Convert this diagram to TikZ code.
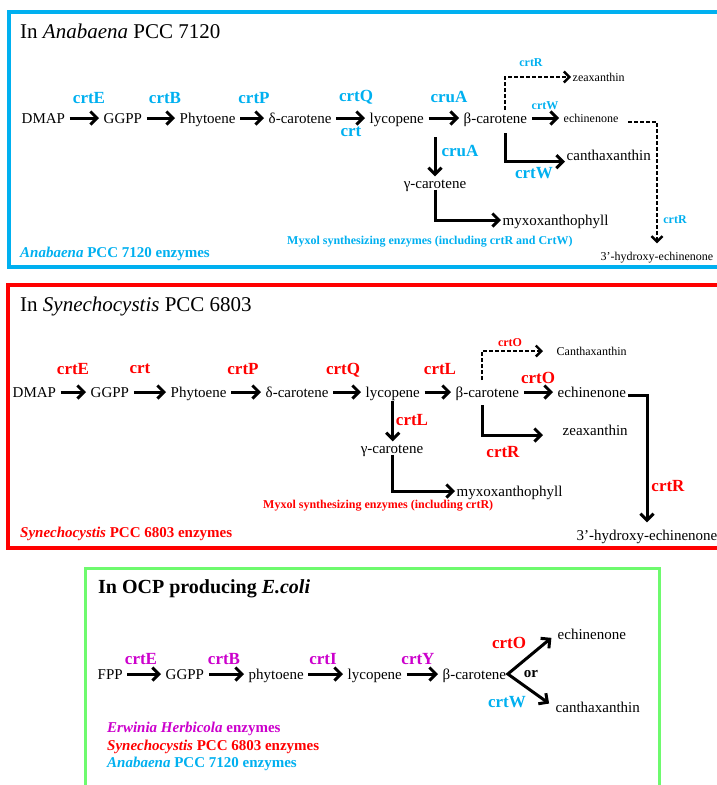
\documentclass[tikz,border=0pt]{standalone}
\usepackage{fontspec}
\setmainfont{Liberation Serif}
\usetikzlibrary{arrows.meta}

\definecolor{anab}{RGB}{0,176,240}
\definecolor{syne}{RGB}{255,0,0}
\definecolor{erwi}{RGB}{204,0,204}
\definecolor{ecol}{RGB}{110,250,110}

\tikzset{
  >={Straight Barb[length=6.5pt,width=13pt,line width=3pt]},
  cmp/.style={font=\fontsize{15}{18}\selectfont, inner sep=1.5pt, text height=10pt, text depth=0pt},
  cmps/.style={font=\fontsize{12}{14}\selectfont, inner sep=1.5pt, text height=8pt, text depth=0pt},
  enz/.style={font=\fontsize{17}{20}\selectfont\bfseries, inner sep=0pt},
  enzs/.style={font=\fontsize{12}{14}\selectfont\bfseries, inner sep=0pt},
  rxn/.style={line width=3pt, ->},
  gap/.style={shorten <=3pt, shorten >=3pt},
  dashrxn/.style={line width=2.2pt, dash pattern=on 4pt off 2pt, -{Straight Barb[length=5.5pt,width=11pt,line width=2.4pt]}},
  ttl/.style={font=\fontsize{21}{24}\selectfont, anchor=west, inner sep=0pt},
  lgd/.style={font=\fontsize{15}{18}\selectfont\bfseries, anchor=west, inner sep=0pt},
  myxol/.style={font=\fontsize{12}{14}\selectfont\bfseries, anchor=west, inner sep=0pt},
}

\begin{document}
\begin{tikzpicture}[x=1pt,y=-1pt]
    \useasboundingbox (0,0) rectangle (717,785);
    \fill[white] (0,0) rectangle (717,785);

    % panel frames
    \draw[anab,line width=3.5pt] (717,12) -| (9,267) -- (717,267);
    \draw[syne,line width=3.5pt] (717,285) -| (8,548) -- (717,548);
    \draw[ecol,line width=3pt] (85,785) |- (659,568) -- (659,785);

    %%% Anabaena PCC 7120
    \node[ttl] (ttlA) at (20,31) {In \textit{Anabaena} PCC 7120};
    \node[cmp,anchor=west] (dmapA) at (20,118) {DMAP};
    \node[cmp,anchor=west] (ggppA) at (102,118) {GGPP};
    \node[cmp,anchor=west] (phytA) at (178,118) {Phytoene};
    \node[cmp,anchor=west] (dcarA) at (267,118) {δ-carotene};
    \node[cmp,anchor=west] (lycA) at (368,118) {lycopene};
    \node[cmp,anchor=west] (bcarA) at (462,118) {β-carotene};
    \node[cmps,anchor=west] (echA) at (562,118) {echinenone};
    \node[cmps,anchor=west] (zeaA) at (571,77) {zeaxanthin};
    \node[cmp,anchor=west] (canthA) at (565,155) {canthaxanthin};
    \node[cmp] (gcarA) at (435,183) {γ-carotene};
    \node[cmp,anchor=west] (myxA) at (501,220) {myxoxanthophyll};
    \node[cmps] (hydA) at (657,256) {3’-hydroxy-echinenone};

    \foreach \a/\b in {dmapA/ggppA,ggppA/phytA,phytA/dcarA,dcarA/lycA,lycA/bcarA,bcarA/echA}
        \draw[rxn,gap] (\a) -- (\b);

    \foreach \n/\t/\x/\y in {E/crtE/89/98,B/crtB/165/98,P/crtP/254/98,Q/crtQ/356/97,T/crt/351/132,A/cruA/449/97,V/cruA/460/151,W/crtW/534/173}
        \node[enz,anab] (eA\n) at (\x,\y) {\t};
    \node[enzs,anab] (eAw) at (545,106) {crtW};
    \node[enzs,anab] (eAr) at (531,63) {crtR};
    \node[enzs,anab] (eAs) at (675,220) {crtR};

    \coordinate (bupA) at (505,110);
    \coordinate (bdnA) at (505,133);
    \coordinate (ldnA) at (435,137);
    \coordinate (eoutA) at (628,122);
    \draw[dashrxn] (bupA) |- (zeaA.west);
    \draw[rxn] (bdnA) |- (canthA.south west);
    \draw[rxn] (ldnA) -- (gcarA.north);
    \draw[rxn] (gcarA.south) |- (myxA.west);
    \draw[dashrxn,line width=1.4pt,shorten >=7pt] (eoutA) -| (hydA.north);

    \node[myxol,anab] (myxolA) at (287,242) {Myxol synthesizing enzymes (including crtR and CrtW)};
    \node[lgd,anab] (lgdA) at (20,254) {\textit{Anabaena} PCC 7120 enzymes};

    %%% Synechocystis PCC 6803
    \node[ttl] (ttlB) at (20,306) {In \textit{Synechocystis} PCC 6803};
    \node[cmp,anchor=west] (dmapB) at (11,392) {DMAP};
    \node[cmp,anchor=west] (ggppB) at (89,392) {GGPP};
    \node[cmp,anchor=west] (phytB) at (169,392) {Phytoene};
    \node[cmp,anchor=west] (dcarB) at (264,392) {δ-carotene};
    \node[cmp,anchor=west] (lycB) at (364,392) {lycopene};
    \node[cmp,anchor=west] (bcarB) at (454,392) {β-carotene};
    \node[cmp,anchor=west] (echB) at (556,392) {echinenone};
    \node[cmps,anchor=west] (cantB) at (555,351) {Canthaxanthin};
    \node[cmp,anchor=west] (zeaB) at (561,430) {zeaxanthin};
    \node[cmp] (gcarB) at (392,448) {γ-carotene};
    \node[cmp,anchor=west] (myxB) at (455,491) {myxoxanthophyll};
    \node[cmp] (hydB) at (647,535) {3’-hydroxy-echinenone};

    \foreach \a/\b in {dmapB/ggppB,ggppB/phytB,phytB/dcarB,dcarB/lycB,lycB/bcarB,bcarB/echB}
        \draw[rxn,gap] (\a) -- (\b);

    \foreach \n/\t/\x/\y in {E/crtE/73/369,B/crt/140/369,P/crtP/243/369,Q/crtQ/343/370,L/crtL/440/369,O/crtO/538/378,V/crtL/412/420,R/crtR/503/452,S/crtR/668/486}
        \node[enz,syne] (eB\n) at (\x,\y) {\t};
    \node[enzs,syne] (eBo) at (510,343) {crtO};

    \coordinate (bupB) at (482,380);
    \coordinate (bdnB) at (482,405);
    \coordinate (zeainB) at (543,435);
    \coordinate (eoutB) at (628,395);
    \draw[dashrxn] (bupB) |- ([xshift=-12pt]cantB.west);
    \draw[rxn] (bdnB) |- (zeainB);
    \draw[rxn,shorten <=2pt] (lycB.south) -- (lycB.south |- gcarB.north);
    \draw[rxn] (gcarB.south) |- (myxB.west);
    \draw[rxn,shorten >=6pt] (eoutB) -| (hydB.north);

    \node[myxol,syne] (myxolB) at (263,506) {Myxol synthesizing enzymes (including crtR)};
    \node[lgd,syne] (lgdB) at (20,534) {\textit{Synechocystis} PCC 6803 enzymes};

    %%% OCP producing E.coli
    \node[ttl,font=\fontsize{20}{24}\selectfont\bfseries] (ttlC) at (98,589) {In OCP producing \textit{E.coli}};
    \node[cmp,anchor=west] (fppC) at (96,674) {FPP};
    \node[cmp,anchor=west] (ggppC) at (164,674) {GGPP};
    \node[cmp,anchor=west] (phytC) at (247,674) {phytoene};
    \node[cmp,anchor=west] (lycC) at (346,674) {lycopene};
    \node[cmp,anchor=west] (bcarC) at (441,674) {β-carotene};
    \node[cmp,anchor=west] (echC) at (556,634) {echinenone};
    \node[cmp,anchor=west] (canthC) at (554,707) {canthaxanthin};

    \foreach \a/\b in {fppC/ggppC,ggppC/phytC,phytC/lycC,lycC/bcarC}
        \draw[rxn,gap] (\a) -- (\b);
    \draw[line width=3pt,<->,shorten <=6pt,shorten >=6pt] (echC.west) -- (bcarC.east) -- (canthC.west);

    \foreach \n/\t/\x/\y in {E/crtE/141/659,B/crtB/224/659,I/crtI/323/659,Y/crtY/418/659}
        \node[enz,erwi] (eC\n) at (\x,\y) {\t};
    \node[enz,syne] (eCO) at (509,643) {crtO};
    \node[enz,anab] (eCW) at (507,702) {crtW};
    \node[font=\fontsize{15}{18}\selectfont\bfseries] (orC) at (531,674) {or};

    \node[lgd,erwi] (lgdC1) at (107,729) {\textit{Erwinia Herbicola} enzymes};
    \node[lgd,syne] (lgdC2) at (107,747) {\textit{Synechocystis} PCC 6803 enzymes};
    \node[lgd,anab] (lgdC3) at (107,764) {\textit{Anabaena} PCC 7120 enzymes};
\end{tikzpicture}
\end{document}
